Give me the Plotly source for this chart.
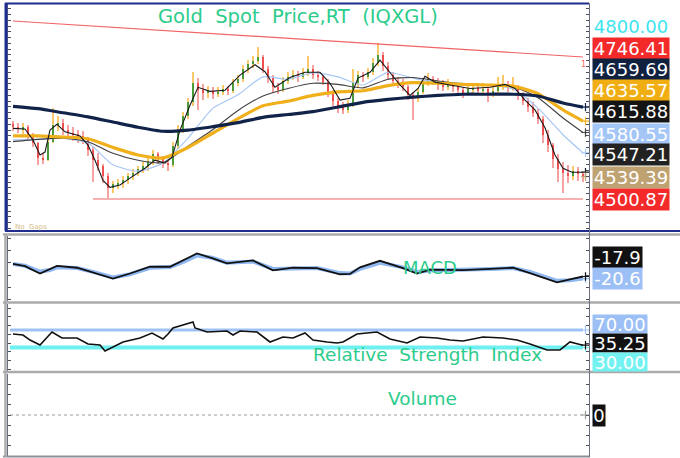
import numpy as np
import plotly.graph_objects as go

# ---------------- data ----------------
bar_open = [4630,4625,4620,4626,4612,4598,4572,4568,4600,4628,4632,4620,4615,4612,4610,4604,4585,4568,4558,4540,
            4520,4526,4528,4533,4541,4546,4552,4558,4566,4578,4570,4562,4560,4592,4620,4645,4668,4702,4690,4684,
            4688,4683,4686,4691,4688,4702,4709,4725,4734,4740,4746,4725,4710,4695,4689,4705,4712,4716,4711,4719,
            4726,4715,4712,4704,4685,4670,4660,4655,4662,4702,4715,4712,4720,4736,4750,4730,4715,4705,4700,4695,
            4680,4675,4686,4702,4709,4704,4698,4696,4699,4694,4689,4685,4691,4693,4687,4691,4684,4688,4696,4699,
            4693,4695,4680,4671,4660,4650,4640,4612,4594,4570,4552,4545,4540,4549,4544]
bar_high = [4636,4633,4632,4628,4615,4600,4580,4605,4658,4645,4640,4628,4625,4620,4618,4608,4590,4580,4562,4545,
            4532,4535,4540,4545,4552,4558,4565,4572,4585,4582,4575,4570,4600,4628,4652,4675,4720,4710,4700,4696,
            4694,4695,4698,4696,4708,4715,4732,4742,4748,4764,4750,4730,4716,4702,4712,4720,4724,4722,4728,4748,
            4732,4722,4716,4708,4690,4676,4668,4672,4725,4722,4720,4728,4745,4770,4755,4738,4720,4712,4708,4698,
            4686,4692,4708,4718,4714,4710,4706,4708,4704,4700,4695,4698,4700,4698,4702,4696,4694,4712,4715,4705,
            4712,4698,4686,4676,4668,4656,4645,4620,4598,4578,4565,4560,4558,4556,4548]
bar_low = [4618,4615,4614,4605,4590,4560,4562,4566,4598,4618,4612,4608,4602,4598,4596,4575,4530,4550,4528,4502,
           4512,4518,4520,4526,4534,4540,4545,4550,4560,4562,4555,4550,4556,4588,4615,4640,4662,4655,4672,4676,
           4674,4678,4680,4680,4685,4696,4704,4718,4728,4735,4718,4702,4685,4682,4686,4700,4706,4704,4708,4714,
           4708,4705,4698,4678,4662,4650,4648,4650,4660,4695,4704,4708,4716,4730,4722,4706,4698,4692,4688,4672,
           4637,4668,4682,4696,4698,4690,4688,4690,4686,4680,4675,4680,4684,4680,4682,4668,4678,4684,4690,4686,
           4688,4672,4664,4652,4642,4630,4598,4582,4555,4530,4512,4528,4534,4532,4530]
bar_close = [4625,4622,4626,4612,4598,4572,4568,4600,4628,4632,4620,4615,4612,4610,4604,4585,4568,4558,4540,4520,
             4526,4528,4533,4541,4546,4552,4558,4566,4578,4570,4562,4560,4592,4620,4645,4668,4702,4690,4684,4688,
             4683,4686,4691,4688,4702,4709,4725,4734,4740,4746,4725,4710,4695,4689,4705,4712,4716,4711,4719,4726,
             4715,4712,4704,4685,4670,4660,4655,4662,4702,4715,4712,4720,4736,4750,4730,4715,4705,4700,4695,4680,
             4675,4686,4702,4709,4704,4698,4696,4699,4694,4689,4685,4691,4693,4687,4691,4684,4688,4696,4699,4693,
             4695,4680,4671,4660,4650,4640,4612,4594,4570,4552,4545,4540,4549,4544,4539.39]

ma_idx = [0,5,10,15,20,25,30,35,40,45,50,55,60,65,70,75,80,85,90,95,100,105,110,114]
ma_navy = [4661,4657,4650,4643,4634,4625,4618,4620,4626,4633,4642,4647,4652,4660,4668,4673,4677,4680,4682,4682,4682,4679,4667,4659.69]
ma_gold = [4610,4610,4608,4605,4590,4577,4572,4590,4615,4640,4662,4670,4680,4686,4688,4697,4702,4701,4699,4698,4696,4683,4655,4635.57]
ma_black = [4600,4604,4606,4600,4580,4568,4564,4592,4621,4654,4679,4692,4701,4699,4693,4708,4711,4705,4700,4698,4695,4676,4641,4615.88]
ma_lblue = [4603,4604,4606,4598,4560,4549,4563,4606,4658,4681,4712,4708,4719,4712,4698,4720,4710,4703,4701,4698,4691,4658,4612,4580.55]

fast_idx = [0,2.4,4,5.4,6.4,7.4,8.8,10.4,13.4,15,16.4,18,19.4,21.4,23.4,26.4,28.4,30.4,31.8,33.4,35.4,37,39.4,42.4,
            45.4,48.4,50.4,52.4,55.4,58.4,61.4,63.4,65.4,67.4,69,71.4,73.4,75.4,77.4,79.4,81,82.4,84.4,87.4,91.4,
            95.4,98.4,100.4,102.4,104.4,106.4,108.4,110,111.8,114]
fast_ma = [4623,4622,4603,4577,4582,4620,4630,4617,4610,4594,4568,4533,4521,4525,4537,4554,4568,4563,4573,4620,4663,
           4694,4687,4689,4715,4733,4721,4694,4711,4720,4720,4701,4672,4675,4710,4720,4741,4720,4698,4680,4692,4713,
           4703,4698,4692,4694,4699,4692,4672,4655,4624,4577,4554,4547,4547.21]

trend_idx = [0, 114]
trend_val = [4808.7, 4746.41]
support_idx = [16, 114]
support_val = [4500.87, 4500.87]

macd_idx = [0,2.4,5.4,7.4,8.8,12.8,16.4,20,23.4,27.4,31.4,34.4,36.8,39.8,42.8,48,52,56,60.8,65.4,67.4,69.4,73.4,78,
            80.8,83.4,90,95.4,100,103.4,106.4,108.8,111.4,114]
macd_line = [-1.5,-4.5,-14.0,-8.0,-4.0,-6.5,-14.0,-20.5,-14.0,-5.0,-5.2,4.5,12.0,6.0,-0.8,3.0,-10.0,-6.5,-6.9,-15.0,
             -14.5,-6.0,2.5,-7.0,-14.0,-9.0,-9.5,-8.0,-6.5,-13.5,-20.5,-25.5,-21.5,-17.9]
macd_signal = [-1.6,-4.0,-11.5,-9.5,-6.0,-6.9,-12.5,-19.0,-15.0,-6.5,-5.6,2.0,9.5,6.5,0.0,1.5,-8.0,-7.0,-6.8,-13.5,
               -14.0,-8.0,0.0,-6.0,-12.0,-10.0,-9.4,-8.2,-7.0,-12.0,-18.5,-23.5,-22.8,-20.6]

rsi_idx = [0,2,3.4,5.4,7.8,9.8,12.8,15,17.4,18.4,22,25.4,27.8,30,31,32,36,36.4,38.8,42.8,44,45.4,48.8,51.4,54,56,
           58.4,60,62.8,64.8,66,68.8,72.8,75.4,78.8,81.4,84.8,87.4,90,94,98,100.8,103.4,106.8,109.4,111.4,113,114]
rsi_val = [60.9,58.6,47,35.7,65.4,51.7,51.7,38,35.7,22,42.6,51.7,63.1,49.4,60.9,74.6,88.3,74.6,65.4,67.7,58.6,67.7,
           65.4,42.6,54,51.7,63.1,47,42.6,40.3,42.6,60.9,65.4,49.4,40.3,54,51.7,47,44.9,54,51.7,47,38,24.3,24.3,
           42.6,38,35.25]
rsi_levels = [70, 30]

volume_level = 0

price_labels = ["4800.00","4746.41","4659.69","4635.57","4615.88","4580.55","4547.21","4539.39","4500.87"]
macd_labels = ["-17.9","-20.6"]
rsi_labels = ["70.00","35.25","30.00"]
volume_labels = ["0"]

# ---------------- layout helpers ----------------
W, H = 680, 458
ML, MR, MT, MB = 8, 91, 3, 1
PW, PH = W - ML - MR, H - MT - MB

def xp(px):
    return (px - ML) / PW

def yp(py):
    return 1 - (py - MT) / PH

GREEN_TXT = "#2ccc8c"
NAVY = "#12234a"
GOLD = "#f0b01c"
LBLUE = "#a6c6f5"
TAN = "#bfa272"

o = np.array(bar_open, float)
h = np.array(bar_high, float)
l = np.array(bar_low, float)
c = np.array(bar_close, float)
idx = np.arange(len(c))
up = c >= o

fig = go.Figure()

# wicks
fig.add_trace(go.Bar(x=idx, base=l, y=h - l, width=0.4,
                     marker=dict(color=np.where(up, "#fbc86c", "#f6a2a2"), line=dict(width=0)),
                     xaxis="x", yaxis="y", hoverinfo="skip"))
# bodies
fig.add_trace(go.Bar(x=idx, base=np.minimum(o, c), y=np.maximum(np.abs(c - o), 1.5), width=0.55,
                     marker=dict(color=np.where(up, "#4b9a3c", "#ee5050"), line=dict(width=0)),
                     xaxis="x", yaxis="y", hoverinfo="skip"))

def line(x, y, color, width, ax="", shape="spline", dash="solid", end_marker=True):
    fig.add_trace(go.Scatter(x=x, y=y, mode="lines", line=dict(color=color, width=width, shape=shape, dash=dash,
                                                              smoothing=0.6 if shape == "spline" else None),
                             xaxis="x" + ax, yaxis="y" + ax, hoverinfo="skip"))
    if end_marker:
        fig.add_trace(go.Scatter(x=[x[-1] + 0.5], y=[y[-1]], mode="markers",
                                 marker=dict(symbol="cross-thin", size=6, line=dict(color=color, width=1.2)),
                                 xaxis="x" + ax, yaxis="y" + ax, hoverinfo="skip"))

# trend lines
line(trend_idx, trend_val, "#f26464", 1.2, shape="linear", end_marker=False)
line(support_idx, support_val, "#f26464", 1.2, shape="linear", end_marker=False)
# moving averages
line(ma_idx, ma_lblue, LBLUE, 1.2)
line(ma_idx, ma_black, "#404040", 1.1)
line(ma_idx, ma_gold, GOLD, 3.2)
line(ma_idx, ma_navy, NAVY, 3.2)
line(fast_idx, fast_ma, "#1a1a1a", 1.1, shape="linear")
fig.add_trace(go.Scatter(x=[idx[-1] + 0.5], y=[c[-1]], mode="markers",
                         marker=dict(symbol="cross-thin", size=6, line=dict(color=TAN, width=1.2)),
                         xaxis="x", yaxis="y", hoverinfo="skip"))

# MACD
line(macd_idx, macd_signal, "#8fb8f2", 4, ax="2", shape="linear")
line(macd_idx, macd_line, "#111111", 1.8, ax="2", shape="linear")

# RSI
line([-0.6, 114], [rsi_levels[0]] * 2, "#9fc2f5", 3, ax="3", shape="linear")
line([-0.6, 114], [rsi_levels[1]] * 2, "#6ff0f0", 4, ax="3", shape="linear")
line(rsi_idx, rsi_val, "#111111", 1.6, ax="3", shape="linear")

# Volume
line([-0.6, 114], [volume_level] * 2, "#9a9a9a", 1, ax="4", shape="linear", dash="dot")

# ---------------- axes ----------------
xr = [-1.0, 115.2]

def xax(anchor):
    return dict(domain=[0, 1], range=xr, visible=False, anchor=anchor, fixedrange=True)

def yax(domain, rng, dtick, tick0):
    return dict(domain=domain, range=rng, dtick=dtick, tick0=tick0, showgrid=False, zeroline=False,
                showline=True, linecolor="#6a7080", linewidth=1, mirror="ticks", ticks="inside",
                ticklen=3, tickwidth=1, tickcolor="#4a5060", showticklabels=False, fixedrange=True)

price_per_px = 1 / 0.5783
fig.update_layout(
    width=W, height=H, margin=dict(l=ML, r=MR, t=MT, b=MB),
    paper_bgcolor="white", plot_bgcolor="white", showlegend=False,
    barmode="overlay", bargap=0,
    xaxis=xax("y"), xaxis2=xax("y2"), xaxis3=xax("y3"), xaxis4=xax("y4"),
    yaxis=yax([yp(230), yp(3)], [4500.87 - 31 * price_per_px, 4500.87 + 196 * price_per_px], 10, 4500),
    yaxis2=yax([yp(301), yp(236)], [-17.9 - 24.5 * 1.3, -17.9 + 40.5 * 1.3], 16, 0),
    yaxis3=yax([yp(371), yp(304)], [70 - 41 * 2.286, 70 + 26 * 2.286], 20, 0),
    yaxis4=yax([yp(456), yp(374)], [-1, 1], 0.25, 0),
)

# ---------------- shapes ----------------
shapes = []

def hl(py, px0, px1, color, width):
    shapes.append(dict(type="line", xref="paper", yref="paper", x0=xp(px0), x1=xp(px1), y0=yp(py), y1=yp(py),
                       line=dict(color=color, width=width), layer="above"))

def vl(px, py0, py1, color, width):
    shapes.append(dict(type="line", xref="paper", yref="paper", x0=xp(px), x1=xp(px), y0=yp(py0), y1=yp(py1),
                       line=dict(color=color, width=width), layer="above"))

BORDER = "#1f2d8c"
hl(3.5, 5, 589, BORDER, 2)
hl(231, 5, 680, BORDER, 2)
vl(6, 3, 231, BORDER, 3)
for py in (234.5, 302.5, 372):
    hl(py, 3, 680, "#ababab", 2.5)
hl(456.5, 3, 590, "#8a8f9a", 2)
vl(5.5, 234, 457, "#ababab", 2.5)
vl(589.5, 3, 457, "#6a7080", 1)
fig.update_layout(shapes=shapes)

# ---------------- annotations ----------------
ann = []

def txt(text, px, py, size, color, anchor="center", family="DejaVu Sans"):
    ann.append(dict(xref="paper", yref="paper", x=xp(px), y=yp(py), text=text, showarrow=False,
                    xanchor=anchor, yanchor="middle", font=dict(family=family, size=size, color=color)))

def box(text, px_center, py, bg, w, fc="white", hgt=21):
    ann.append(dict(xref="paper", yref="paper", x=xp(px_center), y=yp(py), text=text, showarrow=False,
                    xanchor="center", yanchor="middle", width=w, height=hgt, borderpad=0,
                    bgcolor=bg if bg else "rgba(0,0,0,0)",
                    font=dict(family="DejaVu Sans", size=18, color=fc)))

NB = "\u00a0"
txt("Gold" + NB + NB + "Spot" + NB + NB + "Price,RT" + NB + NB + "(IQXGL)", 298, 16, 19.5, GREEN_TXT)
txt("MACD", 430, 267, 18, GREEN_TXT)
txt("Relative" + NB + NB + "Strength" + NB + NB + "Index", 427, 354, 18.5, GREEN_TXT)
txt("Volume", 422, 398, 18.5, GREEN_TXT)
txt("No" + NB + NB + "Gaps", 13, 227, 7, "#d2bc86", anchor="left")
txt("1", 583, 64, 8, "#f26464")

price_bg = [None, "#f42a2a", "#10213f", "#f0ae12", "#141414", "#a4c6f7", "#222222", TAN, "#f42a2a"]
price_py = [27, 48, 69, 91, 112, 134, 155, 177, 199]
for t, bg, py in zip(price_labels, price_bg, price_py):
    box(t, 631, py, bg, 76, fc="#3ee4ee" if bg is None else "white")

for t, bg, py in zip(macd_labels, ["#111111", "#9cc0f5"], [257, 278]):
    box(t, 617, py, bg, 49)
for t, bg, py in zip(rsi_labels, ["#9cc0f5", "#111111", "#74f2f2"], [323.5, 342.5, 361.5]):
    box(t, 620, py, bg, 54, hgt=18)
box(volume_labels[0], 599, 415, "#111111", 12)

fig.update_layout(annotations=ann)

fig.write_html("out.html", config={"displayModeBar": False},
               post_script="document.body.style.margin='0';document.body.style.padding='0';")
